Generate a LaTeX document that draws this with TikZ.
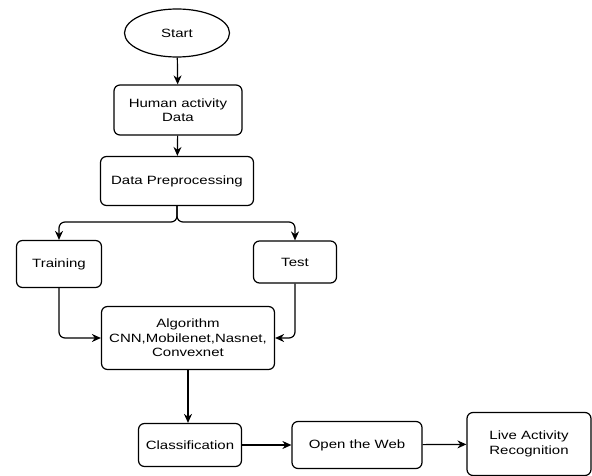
\documentclass[tikz,border=0pt]{standalone}
\usepackage{fontspec}
\setmainfont{Liberation Sans}[FakeStretch=1.25]
\usepackage{tikz}
\usetikzlibrary{arrows.meta,shapes.geometric}

\tikzset{
	box/.style={draw, line width=1.2pt, rounded corners=6pt, align=center, font=\fontsize{12}{14.5}\selectfont},
	arr/.style={-{Stealth[length=9pt,width=8pt]}, line width=1.2pt}
}

\begin{document}
\begin{tikzpicture}[x=1pt, y=-1pt]
		\useasboundingbox (0, 0) rectangle (592, 476);

		\node[box, ellipse, minimum width=105, minimum height=48] (start) at (177, 33) {Start};
		\node[box, minimum width=128, minimum height=50] (hum) at (178, 110) {Human activity\\Data};
		\node[box, minimum width=153, minimum height=49] (pre) at (177, 181) {Data Preprocessing};
		\node[box, minimum width=85, minimum height=47] (train) at (59, 264) {Training};
		\node[box, minimum width=83, minimum height=42] (test) at (295, 262) {Test};
		\node[box, minimum width=173, minimum height=63, inner sep=2pt] (alg) at (188, 338) {Algorithm\\CNN,Mobilenet,Nasnet,\\Convexnet};
		\node[box, minimum width=103, minimum height=43, inner sep=2pt] (cls) at (190, 445) {Classification};
		\node[box, minimum width=130, minimum height=47] (web) at (357, 445) {Open the Web};
		\node[box, minimum width=124, minimum height=63] (live) at (529, 444) {Live Activity\\Recognition};

		\coordinate (fork) at (177, 222);

		\draw[arr] (start) -- (hum);
		\draw[arr] (hum) -- (pre);
		\draw[arr, rounded corners=6pt] (pre.south) -- (fork) -| (train.north);
		\draw[arr, rounded corners=6pt] (pre.south) -- (fork) -| (test.north);
		\draw[arr, rounded corners=6pt] (train.south) |- (alg.west);
		\draw[arr, rounded corners=6pt] (test.south) |- (alg.east);
		\draw[arr] (alg.south) -- (alg.south |- cls.north);
		\draw[arr] (cls) -- (web);
		\draw[arr] (web) -- (live);
	\end{tikzpicture}
\end{document}
